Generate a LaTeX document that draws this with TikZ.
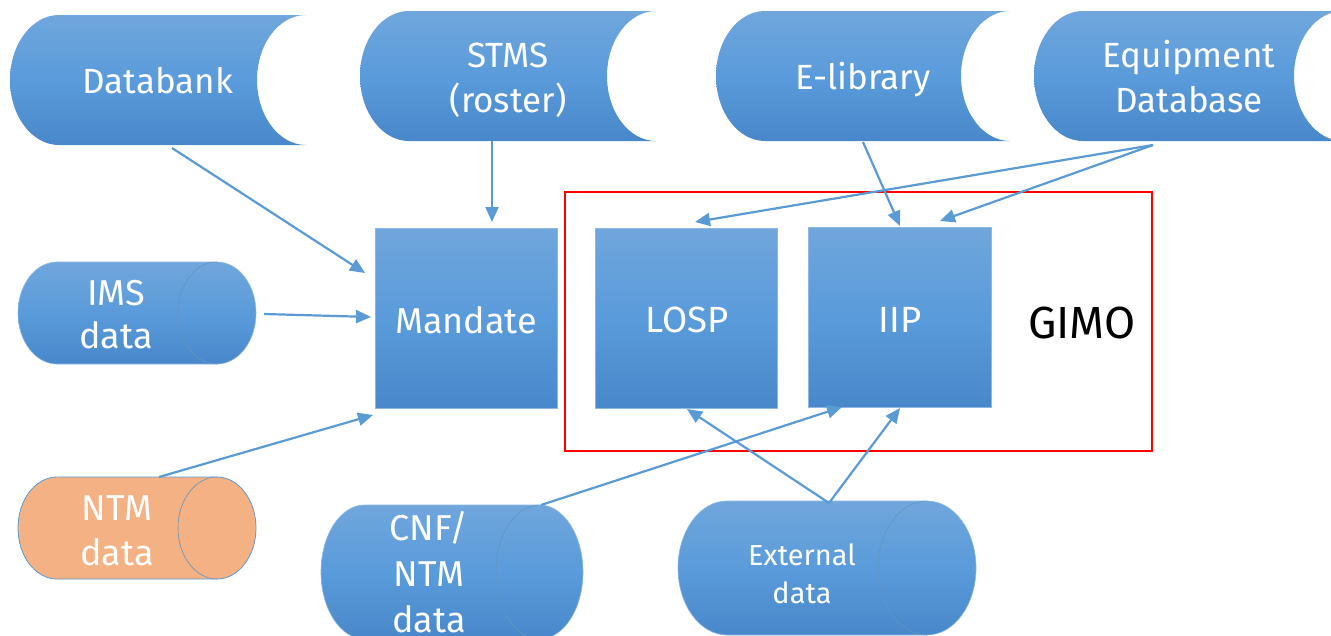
\documentclass[tikz,border=0pt]{standalone}
\usepackage{fontspec}
\setmainfont{Fira Sans}
\usetikzlibrary{arrows.meta}
\definecolor{gtop}{HTML}{70A6DC}
\definecolor{gmid}{HTML}{5A9BDB}
\definecolor{gbot}{HTML}{4888CA}
\definecolor{lineblue}{HTML}{5B9BD5}
\definecolor{edgeblue}{HTML}{8DB8E4}
\definecolor{ntmorange}{HTML}{F4B183}
\newcommand{\cylShape}[6]{%
  \path[#6] ({#1},{#5-#3}) -- ({#2},{#5-#3}) arc[start angle=90,end angle=-90,x radius=#4pt,y radius=#5pt] -- ({#1},{-#3-#5}) arc[start angle=270,end angle=90,x radius=#4pt,y radius=#5pt] -- cycle;
  \draw[cylline] ({#2},{#5-#3}) arc[start angle=90,end angle=270,x radius=#4pt,y radius=#5pt];
}
\newcommand{\dasShape}[5]{% left cap centre x, right x, top, bottom, rx
  \path[blueshade] ({#1},{-#3}) -- ({#2},{-#3}) arc[start angle=90,end angle=270,x radius=#5pt,y radius=65pt] -- ({#1},{-#4}) arc[start angle=270,end angle=90,x radius=#5pt,y radius=65pt] -- cycle;
}
\tikzset{
  blueshade/.style={top color=gtop, bottom color=gbot, middle color=gmid},
  cylblue/.style={top color=gtop, bottom color=gbot, middle color=gmid, draw=edgeblue, line width=0.6pt},
  cylorange/.style={fill=ntmorange, draw=lineblue, line width=0.8pt},
  cylline/.style={draw=lineblue!80!black!60!edgeblue, line width=0.6pt},
  rectbox/.style={top color=gtop, bottom color=gbot, middle color=gmid, draw=edgeblue, line width=0.8pt, minimum width=182pt, minimum height=180pt, inner sep=0pt},
  lbl/.style={text=white, align=center, inner sep=0pt, anchor=base, font=\fontsize{35}{45}\selectfont},
  flow/.style={draw=lineblue, line width=2.2pt, -{Triangle[length=15pt,width=13pt]}},
}
\begin{document}
\begin{tikzpicture}[x=1pt,y=1pt]
\useasboundingbox (0,0) rectangle (1331,-635);
\fill[white] (0,0) rectangle (1331,-635);
% top storage shapes
\dasShape{59}{306}{15}{145}{49}
\dasShape{409}{656}{11}{141}{49}
\dasShape{765}{1010}{11}{141}{49}
\dasShape{1083}{1343}{11}{141}{49}
\node[lbl] (databank) at (158,-93) {Databank};
\node[lbl] (stms) at (508,-112) {STMS\\(roster)};
\node[lbl] (elib) at (863,-89) {E-library};
\node[lbl] (equip) at (1189,-112) {Equipment\\Database};
% cylinders
\cylShape{57}{217}{313}{39}{51}{cylblue}
\cylShape{57}{217}{528}{39}{51}{cylorange}
\cylShape{364.5}{539.5}{572}{43.5}{67}{cylblue}
\cylShape{727}{927}{568}{49}{67}{cylblue}
\node[lbl, font=\fontsize{36}{43}\selectfont] (ims) at (116,-348) {IMS\\data};
\node[lbl, font=\fontsize{36}{45}\selectfont] (ntm) at (117,-565) {NTM\\data};
\node[lbl, font=\fontsize{36}{46}\selectfont] (cnf) at (429,-632) {CNF/\\NTM\\data};
\node[lbl, font=\fontsize{29}{38}\selectfont] (ext) at (802,-603) {External\\data};
% processes
\node[rectbox] (mandate) at (466,-318) {};
\node[lbl, font=\fontsize{36}{40}\selectfont] (mandatet) at (466,-333) {Mandate};
\node[rectbox] (losp) at (686,-318) {};
\node[lbl, font=\fontsize{36.5}{40}\selectfont] (lospt) at (687,-332) {LOSP};
\node[rectbox, minimum width=183pt] (iip) at (899.5,-317) {};
\node[lbl, font=\fontsize{36.5}{40}\selectfont] (iipt) at (900,-332) {IIP};
% GIMO boundary
\draw[red, line width=2.2pt] (565,-192) rectangle (1152,-451);
\node[inner sep=0pt, anchor=base, font=\fontsize{45}{50}\selectfont] (gimo) at (1082,-338) {GIMO};
% connector end points
\coordinate (dbOut) at (172,-148);
\coordinate (mIn1) at (365,-273);
\coordinate (stOut) at (492,-141);
\coordinate (mIn2) at (492,-222);
\coordinate (imsOut) at (264,-314);
\coordinate (mIn3) at (371,-317);
\coordinate (ntmOut) at (159,-477);
\coordinate (mIn4) at (373,-415);
\coordinate (elOut) at (863,-142);
\coordinate (iIn1) at (900,-226);
\coordinate (eqOut) at (1153,-145);
\coordinate (lIn1) at (695,-222);
\coordinate (iIn2) at (940,-221);
\coordinate (cnfOut) at (541,-505);
\coordinate (iIn3) at (842,-407);
\coordinate (exOut) at (829,-503);
\coordinate (lIn2) at (687,-409);
\coordinate (iIn4) at (900,-408);
\draw[flow] (dbOut) -- (mIn1);
\draw[flow] (stOut) -- (mIn2);
\draw[flow] (imsOut) -- (mIn3);
\draw[flow] (ntmOut) -- (mIn4);
\draw[flow] (elOut) -- (iIn1);
\draw[flow] (eqOut) -- (lIn1);
\draw[flow] (eqOut) -- (iIn2);
\draw[flow] (cnfOut) -- (iIn3);
\draw[flow] (exOut) -- (lIn2);
\draw[flow] (exOut) -- (iIn4);
\end{tikzpicture}
\end{document}
